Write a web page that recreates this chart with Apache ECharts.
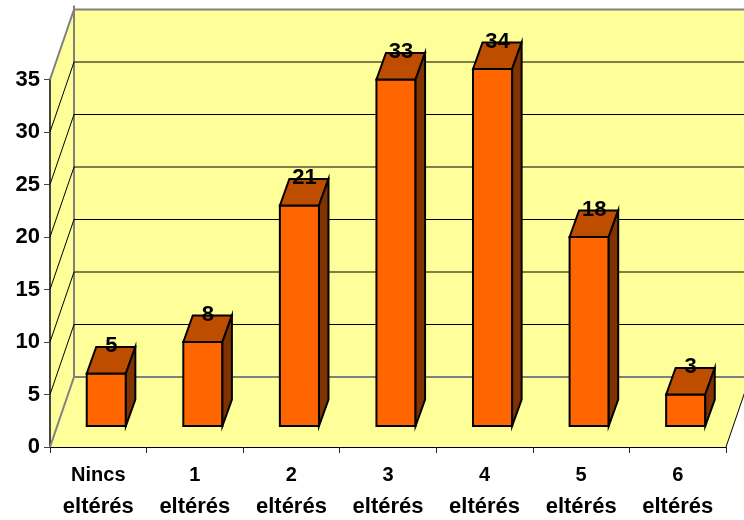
<!DOCTYPE html>
<html>
<head>
<meta charset="utf-8">
<style>html,body{margin:0;padding:0;background:#fff}#main{width:744px;height:520px}</style>
<script src="https://cdn.jsdelivr.net/npm/echarts@6/dist/echarts.min.js"></script>
</head>
<body>
<div id="main"></div>
<script>
var categories = ['Nincs\neltérés', '1\neltérés', '2\neltérés', '3\neltérés', '4\neltérés', '5\neltérés', '6\neltérés'];
var values = [5, 8, 21, 33, 34, 18, 3];
var yTicks = [0, 5, 10, 15, 20, 25, 30, 35];

// fake 3d: how far the back wall and the bars sit from the front plane
var wallDx = 24, wallDy = -70;
var barDx = 8, barDy = -21;
var sideDx = 9.5, sideDy = -26.5;
var wallColor = '#FFFF99', wallEdge = '#808080';
var black = '#000';

function line(x1, y1, x2, y2, color, w) {
    return {type: 'line', shape: {x1: x1, y1: y1, x2: x2, y2: y2}, style: {stroke: color, lineWidth: w}};
}
function poly(points, fill) {
    return {type: 'polygon', shape: {points: points}, style: {fill: fill, stroke: black, lineWidth: 2, lineJoin: 'miter'}};
}

function renderWalls(params, api) {
    var c = params.coordSys;
    var l = c.x, r = c.x + c.width, t = c.y, b = c.y + c.height;
    var fill = {fill: wallColor};
    return {type: 'group', children: [
        {type: 'polygon', shape: {points: [[l + wallDx, t + wallDy], [r + wallDx, t + wallDy], [r + wallDx, b + wallDy], [l + wallDx, b + wallDy]]}, style: fill},
        {type: 'polygon', shape: {points: [[l, t], [l + wallDx, t + wallDy], [l + wallDx, b + wallDy], [l, b]]}, style: fill},
        {type: 'polygon', shape: {points: [[l, b], [l + wallDx, b + wallDy], [r + wallDx, b + wallDy], [r, b]]}, style: fill},
        line(r, b, r + wallDx, b + wallDy, black, 1)
    ]};
}

function renderGrid(params, api) {
    var c = params.coordSys;
    var v = api.value(1);
    var y = api.coord([0, v])[1];
    var l = c.x, r = c.x + c.width;
    var edge = v === yTicks[0] || v === yTicks[yTicks.length - 1];
    var children = [
        line(l + wallDx, y + wallDy, r + wallDx, y + wallDy, edge ? wallEdge : black, edge ? 2 : 1)
    ];
    children.push(line(l, y, l + wallDx, y + wallDy, edge ? wallEdge : black, edge ? 2 : 1));
    if (v === yTicks[0]) {
        children.push(line(l + wallDx, c.y + wallDy - 4, l + wallDx, y + wallDy, wallEdge, 2));
    }
    return {type: 'group', children: children};
}

function renderBar(params, api) {
    var cat = api.value(0), v = api.value(1);
    var base = api.coord([cat, 0]);
    var top = api.coord([cat, v]);
    var w = api.size([1, 0])[0] * 0.405;
    var x0 = base[0] + barDx - w / 2, x1 = x0 + w;
    var y0 = base[1] + barDy, y1 = top[1] + barDy;
    return {type: 'group', children: [
        poly([[x0, y1], [x1, y1], [x1, y0], [x0, y0]], '#FF6600'),
        poly([[x0, y1], [x0 + sideDx, y1 + sideDy], [x1 + sideDx, y1 + sideDy], [x1, y1]], '#BF4D00'),
        poly([[x1, y1], [x1 + sideDx, y1 + sideDy], [x1 + sideDx, y0 + sideDy], [x1, y0]], '#803300'),
        {type: 'text', x: (x0 + x1) / 2 + 5, y: y1 + sideDy - 1, z2: 10, style: {
            text: String(v), fill: black, font: 'bold 22px "Liberation Sans"', textAlign: 'center', textVerticalAlign: 'middle'
        }}
    ]};
}

var labelFont = {color: black, fontFamily: 'Liberation Sans', fontWeight: 'bold'};

var chart = echarts.init(document.getElementById('main'));
chart.setOption({
    animation: false,
    backgroundColor: '#fff',
    grid: {left: 50, right: 18, top: 79.5, bottom: 73, outerBoundsMode: 'none'},
    xAxis: {
        type: 'category',
        data: categories,
        axisLine: {lineStyle: {color: black, width: 1}},
        axisTick: {show: true, length: 6, lineStyle: {color: '#222', width: 1}},
        axisLabel: {
            color: black, fontFamily: 'Liberation Sans', fontWeight: 'bold', margin: 12, interval: 0,
            formatter: function (name) {
                var parts = name.split('\n');
                return '{first|' + parts[0] + '}\n{second|' + parts[1] + '}';
            },
            rich: {
                first: Object.assign({fontSize: 20, lineHeight: 32}, labelFont),
                second: Object.assign({fontSize: 22, lineHeight: 32}, labelFont)
            }
        },
        splitLine: {show: false}
    },
    yAxis: {
        type: 'value', min: 0, max: 35, interval: 5,
        axisLine: {show: true, lineStyle: {color: '#444', width: 2}},
        axisTick: {show: true, length: 6, lineStyle: {color: '#444', width: 1}},
        axisLabel: {color: black, fontFamily: 'Liberation Sans', fontWeight: 'bold', fontSize: 22, margin: 10},
        splitLine: {show: false}
    },
    series: [
        {type: 'custom', name: 'walls', silent: true, z: 0, clip: false, renderItem: renderWalls, encode: {x: 0, y: 1}, data: [[0, 0]]},
        {type: 'custom', name: 'grid', silent: true, z: 1, clip: false, renderItem: renderGrid, encode: {x: 0, y: 1},
            data: yTicks.map(function (t) { return [0, t]; })},
        {type: 'custom', name: 'bars', silent: true, z: 3, clip: false, renderItem: renderBar, encode: {x: 0, y: 1},
            data: values.map(function (v, i) { return [i, v]; })}
    ]
});
</script>
</body>
</html>
